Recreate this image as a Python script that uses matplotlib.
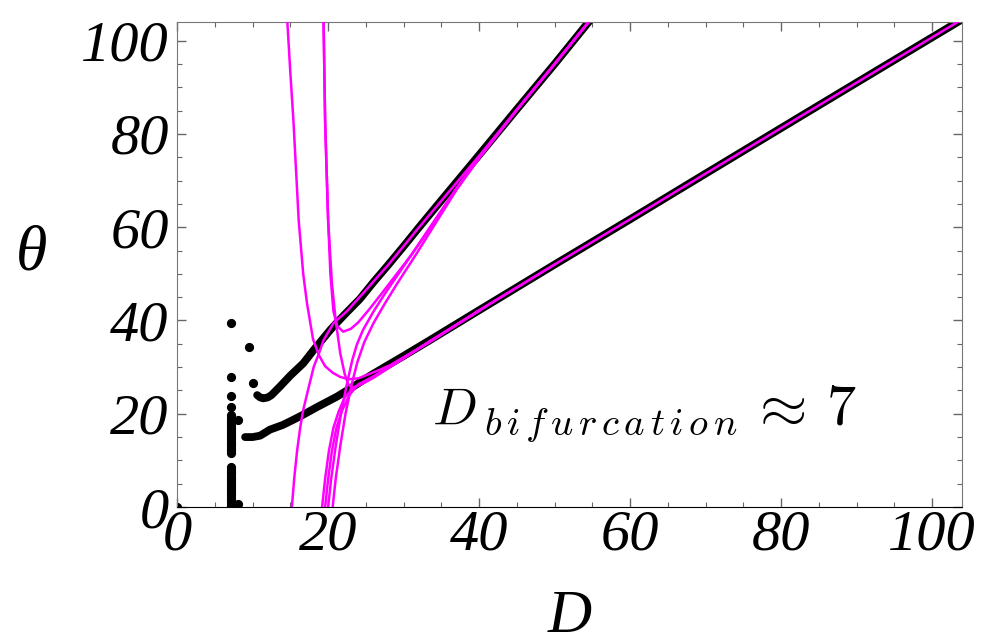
import matplotlib
matplotlib.use("Agg")
import matplotlib.pyplot as plt
from matplotlib.ticker import MultipleLocator

# black dots: the two numerical branches and the scattered points near D ~ 7
upper_x = [10.6, 11.0, 11.4, 12.0, 12.5, 13.6, 15.0, 16.7, 18.1, 20.3, 21.2, 22.5, 24.2,
           26.0, 28.0, 30.0, 32.0, 34.4, 40.0, 45.0, 50.0, 54.7]
upper_y = [24.0, 23.5, 23.3, 23.5, 24.0, 25.8, 28.2, 30.8, 33.7, 38.0, 39.6, 41.8, 44.6,
           48.2, 52.0, 55.9, 59.9, 64.6, 75.5, 85.3, 95.0, 104.4]

lower_x = [9.0, 10.0, 11.0, 12.3, 14.0, 15.5, 16.7, 18.5, 21.2, 23.4, 25.6, 28.0, 30.0,
           33.5, 40.0, 50.0, 60.0, 70.0, 82.5, 90.0, 104.0]
lower_y = [15.0, 15.0, 15.3, 16.6, 17.6, 18.8, 19.8, 21.4, 23.7, 25.9, 28.2, 30.5, 32.4,
           35.8, 42.2, 52.0, 61.7, 71.5, 83.7, 91.0, 104.6]

column_y = [0.0, 0.5, 1.0, 1.5, 2.0, 2.5, 3.0, 3.5, 4.0, 4.5, 5.0, 5.5, 6.0, 6.5, 7.0,
            7.5, 8.0, 8.6, 11.5, 12.0, 12.5, 13.0, 13.5, 14.0, 14.5, 15.0, 15.5, 16.0,
            16.5, 17.0, 17.5, 18.0, 18.5, 19.0, 19.7, 21.5, 23.9, 27.8, 39.4]
column_x = [7.1] * len(column_y)

stray_x = [0.0, 8.0, 8.0, 9.5, 10.0]
stray_y = [0.0, 0.6, 18.7, 34.4, 26.7]

# magenta curves
a_x = [14.6, 15.0, 15.4, 16.1, 16.7, 17.2, 18.0, 18.8, 19.6, 20.6, 21.6, 22.7, 24.0,
       25.1, 26.5, 28.2, 30.5, 33.5, 40.0, 50.0, 60.0, 70.0, 82.5, 90.0, 104.0]
a_y = [104.0, 93.0, 83.0, 61.5, 50.0, 43.7, 36.0, 32.5, 30.2, 28.8, 27.9, 27.4, 27.6,
       28.3, 29.2, 30.4, 32.6, 35.4, 42.2, 52.0, 61.7, 71.5, 83.7, 91.0, 104.6]

b1_x = [19.4, 19.5, 19.6, 19.8, 20.0, 20.3, 20.7, 21.2, 22.0, 23.0, 24.0, 25.5, 27.0,
        29.0, 31.0, 33.0, 35.0, 37.0, 40.0, 45.0, 50.0, 54.7]
b1_y = [104.0, 93.0, 83.0, 72.0, 61.5, 50.0, 42.0, 38.8, 37.6, 38.2, 39.6, 42.5, 45.6,
        49.8, 54.0, 58.6, 63.2, 68.2, 74.9, 85.2, 95.0, 104.4]

b2_x = [19.4, 19.6, 20.0, 20.5, 21.0, 21.6, 22.2, 22.7, 23.3, 24.5, 26.0, 28.0, 30.5,
        33.5, 40.0, 50.0]
b2_y = [104.0, 83.0, 61.5, 48.0, 40.0, 33.0, 28.5, 26.2, 25.6, 26.4, 27.7, 29.8, 32.4,
        35.5, 42.1, 52.0]

c_x = [15.2, 15.5, 15.9, 16.3, 16.7, 17.4, 18.1, 18.8, 19.4, 20.7, 22.5, 25.0, 28.0,
       32.0, 36.0, 40.0, 45.0, 50.0, 54.7]
c_y = [0.0, 6.0, 12.2, 17.0, 20.8, 25.5, 30.1, 33.0, 35.8, 39.4, 42.0, 46.5, 52.0,
       59.9, 67.6, 75.3, 85.2, 95.0, 104.4]

d1_x = [19.2, 19.6, 20.1, 20.7, 21.4, 22.2, 23.3, 25.0, 28.0, 33.5, 40.0]
d1_y = [0.0, 6.0, 12.0, 17.0, 20.5, 23.5, 25.5, 27.0, 29.9, 35.5, 42.1]
d2_x = [19.6, 20.0, 20.5, 21.1, 21.8, 22.8, 24.0, 26.0, 29.0, 33.5, 40.0]
d2_y = [0.0, 6.0, 12.0, 17.0, 20.5, 24.0, 26.3, 28.0, 30.9, 35.6, 42.1]
d3_x = [20.0, 20.4, 21.0, 21.7, 22.5, 23.2, 23.8, 24.6, 26.0, 27.5, 29.1, 31.5, 34.4,
        37.0, 40.0, 45.0, 50.0, 54.7]
d3_y = [0.0, 6.0, 13.0, 20.0, 26.5, 31.5, 34.8, 37.9, 41.9, 45.7, 49.5, 55.2, 62.2,
        68.4, 74.9, 85.2, 95.0, 104.4]
d4_x = [20.6, 21.0, 21.6, 22.3, 23.1, 23.9, 24.8, 26.0, 27.5, 29.1, 31.5, 34.4, 37.0,
        40.0, 45.0, 50.0, 54.7]
d4_y = [0.0, 6.0, 13.0, 20.0, 26.2, 31.2, 35.4, 39.4, 43.6, 47.8, 53.8, 61.3, 68.0,
        74.8, 85.1, 95.0, 104.4]

magenta = "#ff00ff"
plt.rcParams['mathtext.fontset'] = 'cm'

fig = plt.figure(figsize=(9.84, 6.44), dpi=100)
ax = fig.add_axes([0.180, 0.2127, 0.798, 0.7531])

dot = dict(color='black', lw=5.6, solid_capstyle='round', zorder=2)
ax.plot(upper_x, upper_y, **dot)
ax.plot(lower_x, lower_y, **dot)
ax.plot(column_x, column_y, 'o', color='black', ms=5.6, zorder=2)
ax.plot(stray_x, stray_y, 'o', color='black', ms=5.6, zorder=2)

for cx, cy in [(a_x, a_y), (b1_x, b1_y), (b2_x, b2_y), (c_x, c_y),
               (d1_x, d1_y), (d2_x, d2_y), (d3_x, d3_y), (d4_x, d4_y)]:
    ax.plot(cx, cy, color=magenta, lw=1.8, zorder=3)

ax.set_xlim(0, 104)
ax.set_ylim(0, 104)

tick_font = dict(family='Liberation Serif', style='italic', size=42)
ax.xaxis.set_major_locator(MultipleLocator(20))
ax.xaxis.set_minor_locator(MultipleLocator(5))
ax.yaxis.set_major_locator(MultipleLocator(20))
ax.yaxis.set_minor_locator(MultipleLocator(5))
ax.tick_params(which='both', direction='in', top=True, right=True, color='#666666')
ax.tick_params(which='major', length=6.5, width=1)
ax.tick_params(which='minor', length=3.5, width=0.8)
ax.tick_params(axis='x', pad=2)
ax.tick_params(axis='y', pad=6)
for lab in ax.get_xticklabels() + ax.get_yticklabels():
    lab.set_fontproperties(tick_font)

for side in ['left', 'top', 'right']:
    ax.spines[side].set_color('#777777')
ax.spines['bottom'].set_color('black')

ax.set_xlabel('D', family='Liberation Serif', style='italic', size=44, labelpad=20)
ax.set_ylabel('θ', family='Liberation Serif', style='italic', size=46,
              rotation=0, va='center', ha='center')
ax.yaxis.set_label_coords(-0.186, 0.52)

# annotation: D, subscript and "≈ 7" set as separate pieces
ax.text(33.8, 17.6, r'$D$', size=38, ha='left', va='baseline')
ax.text(40.6, 15.4, r'$b\,i\,f\,u\,r\,c\,a\,t\,i\,o\,n$', size=28, ha='left', va='baseline')
ax.text(75.8, 17.6, r'$\approx$', size=44, ha='left', va='baseline')
ax.text(86.0, 17.6, r'$7$', size=42, ha='left', va='baseline')

fig.savefig('out.png', dpi=100)
